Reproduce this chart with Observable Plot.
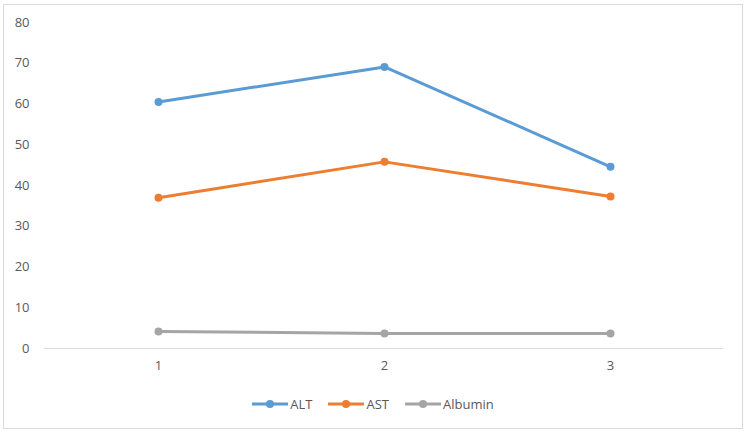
<!DOCTYPE html>
<html>
<head>
<meta charset="utf-8">
<script src="https://cdn.jsdelivr.net/npm/d3@7"></script>
<script src="https://cdn.jsdelivr.net/npm/@observablehq/plot@0.6"></script>
<style>
  body { margin: 0; background: #fff; font-family: "Open Sans", "Liberation Sans", sans-serif; }
  #frame { position: absolute; left: 3px; top: 4px; width: 738px; height: 423px; border: 1px solid #d9d9d9; background: #fff; }
  #legend { display: flex; justify-content: center; align-items: center; gap: 16px; margin-top: 10px; font-size: 13px; color: #595959; }
  .item { display: flex; align-items: center; gap: 2px; }
</style>
</head>
<body>
<div id="frame"><div id="chart"></div><div id="legend"></div></div>
<script>
const categories = [1, 2, 3];
const seriesNames = ["ALT", "AST", "Albumin"];
const altValues = [60.5, 69.1, 44.6];
const astValues = [37.0, 45.8, 37.3];
const albuminValues = [4.2, 3.7, 3.7];
const yTicks = [0, 10, 20, 30, 40, 50, 60, 70, 80];
const colors = ["#5B9BD5", "#ED7D31", "#A5A5A5"];

const seriesValues = [altValues, astValues, albuminValues];
const data = [];
seriesNames.forEach((s, i) => categories.forEach((c, j) => data.push({series: s, cat: c, value: seriesValues[i][j]})));

const chart = Plot.plot({
  width: 738,
  height: 380,
  marginLeft: 40,
  marginRight: 19,
  marginTop: 17,
  marginBottom: 37,
  style: {fontFamily: '"Open Sans", "Liberation Sans", sans-serif', fontSize: "13px", color: "#595959", background: "transparent"},
  x: {type: "band", domain: categories, padding: 0, axis: null},
  y: {domain: [0, 80], axis: null},
  color: {domain: seriesNames, range: colors},
  marks: [
    Plot.ruleY([0], {stroke: "#d9d9d9", strokeWidth: 1}),
    Plot.axisY(yTicks, {tickSize: 0, tickPadding: 15, fill: "#595959", fontSize: 13, label: null}),
    Plot.axisX(categories, {tickSize: 0, tickPadding: 12, fill: "#595959", fontSize: 13, label: null}),
    Plot.line(data, {x: "cat", y: "value", z: "series", stroke: "series", strokeWidth: 3}),
    Plot.dot(data, {x: "cat", y: "value", fill: "series", r: 4})
  ]
});
document.getElementById("chart").appendChild(chart);

const legend = document.getElementById("legend");
seriesNames.forEach((s, i) => {
  const item = document.createElement("div");
  item.className = "item";
  item.innerHTML = `<svg width="36" height="10"><line x1="0" y1="5" x2="36" y2="5" stroke="${colors[i]}" stroke-width="3"/><circle cx="18" cy="5" r="4" fill="${colors[i]}"/></svg><span>${s}</span>`;
  legend.appendChild(item);
});
</script>
</body>
</html>
